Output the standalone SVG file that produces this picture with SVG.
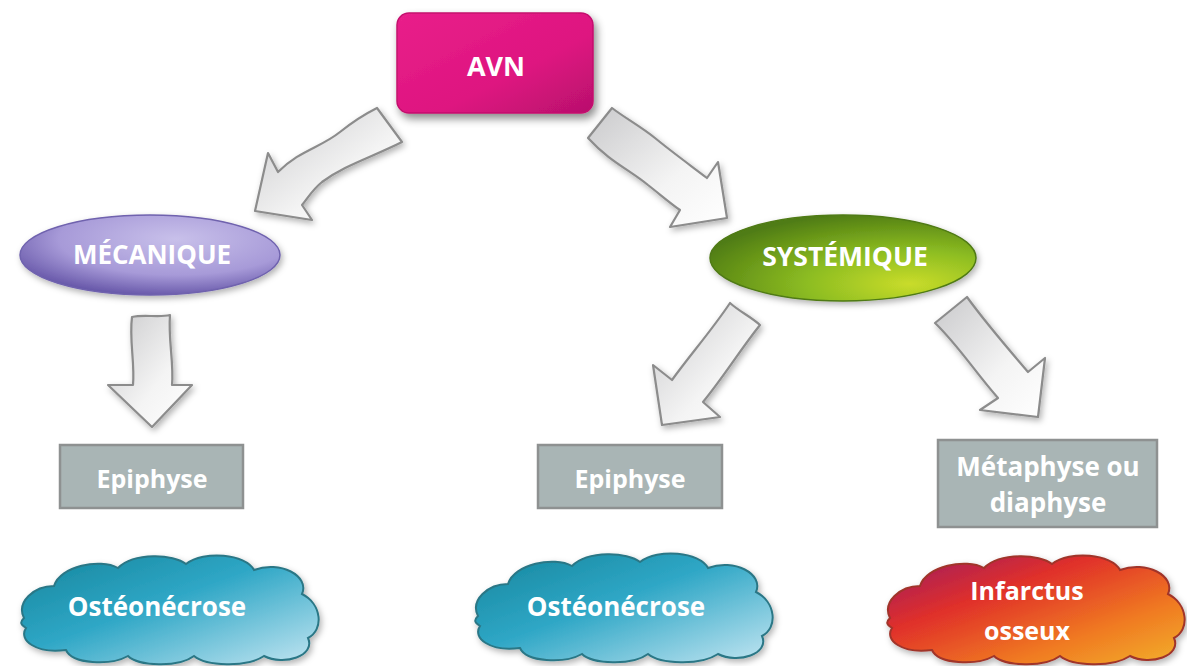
<svg xmlns="http://www.w3.org/2000/svg" width="1187" height="666" viewBox="0 0 1187 666">
  <defs>
    <style>
      .lbl { font-family: "Open Sans", "Liberation Sans", sans-serif; font-weight: 700; fill: #ffffff; text-anchor: middle; dominant-baseline: central; }
      .arrow { fill: url(#arrowFill); stroke: #8c8c8c; stroke-width: 2.2; stroke-linejoin: round; filter: url(#softShadow); }
      .box { fill: #a9b5b5; stroke: #8e9191; stroke-width: 2.5; }
    </style>
    <linearGradient id="arrowFill" x1="0" y1="0" x2="1" y2="1">
      <stop offset="0" stop-color="#c9c9cb"/>
      <stop offset="0.6" stop-color="#f4f4f4"/>
      <stop offset="1" stop-color="#ffffff"/>
    </linearGradient>
    <linearGradient id="avnFill" x1="0" y1="0" x2="1" y2="1">
      <stop offset="0" stop-color="#e9208a"/>
      <stop offset="0.6" stop-color="#de1580"/>
      <stop offset="1" stop-color="#b8106c"/>
    </linearGradient>
    <radialGradient id="mecaFill" cx="0.6" cy="0.3" r="0.75">
      <stop offset="0" stop-color="#c8c0ea"/>
      <stop offset="0.6" stop-color="#a79ad8"/>
      <stop offset="1" stop-color="#5f4fa3"/>
    </radialGradient>
    <radialGradient id="systFill" cx="0.75" cy="0.8" r="0.85">
      <stop offset="0" stop-color="#c9dc2a"/>
      <stop offset="0.45" stop-color="#8dbd22"/>
      <stop offset="1" stop-color="#4f7c12"/>
    </radialGradient>
    <linearGradient id="blueCloud" x1="0" y1="0" x2="1" y2="1">
      <stop offset="0" stop-color="#15859c"/>
      <stop offset="0.45" stop-color="#2fa7c6"/>
      <stop offset="1" stop-color="#c4e6f2"/>
    </linearGradient>
    <linearGradient id="fireCloud" x1="0" y1="0" x2="1" y2="1">
      <stop offset="0" stop-color="#9a1a64"/>
      <stop offset="0.35" stop-color="#e0302a"/>
      <stop offset="0.7" stop-color="#f07a22"/>
      <stop offset="1" stop-color="#f2b22c"/>
    </linearGradient>
    <filter id="softShadow" x="-20%" y="-20%" width="150%" height="150%">
      <feDropShadow dx="2" dy="3" stdDeviation="3" flood-color="#000" flood-opacity="0.3"/>
    </filter>
    <filter id="deepShadow" x="-20%" y="-30%" width="150%" height="170%">
      <feDropShadow dx="3" dy="5" stdDeviation="4" flood-color="#000" flood-opacity="0.45"/>
    </filter>
    <!-- puffy outline shared by the three result clouds -->
    <path id="cloud" d="M 6 70 C -2 54 16 38 36 38 C 42 18 82 10 100 20 C 116 4 156 6 168 16 C 186 2 228 6 236 22 C 262 12 292 28 284 46 C 304 56 306 82 290 90 C 298 108 266 118 246 108 C 228 120 188 118 176 108 C 160 120 120 118 110 108 C 92 118 54 116 48 102 C 18 106 0 92 8 80 C 2 76 2 74 6 70 Z"/>
  </defs>

  <rect width="1187" height="666" fill="#ffffff"/>

  <g id="connectors">
    <!-- AVN to MÉCANIQUE -->
    <path class="arrow" d="M 377 108 L 402 142 C 370 158 345 165 322 182 C 312 190 308 198 302 205 L 312 220 L 255 211 L 268 153 L 278 172 C 300 150 320 148 340 132 C 355 120 365 114 377 108 Z"/>
    <!-- AVN to SYSTÉMIQUE -->
    <path class="arrow" d="M 612 108 L 588 138 C 610 162 630 170 648 185 C 662 196 670 203 680 210 L 670 227 L 727 218 L 718 162 L 707 178 C 690 165 672 152 655 138 C 640 126 625 118 612 108 Z"/>
    <!-- MÉCANIQUE to Epiphyse -->
    <path class="arrow" d="M 132 317 C 145 314 158 318 170 315 C 168 340 174 362 172 385 L 192 385 L 152 427 L 108 385 L 133 385 C 135 362 129 340 132 317 Z"/>
    <!-- SYSTÉMIQUE to Epiphyse -->
    <path class="arrow" d="M 730 303 C 740 312 750 316 760 325 C 740 350 725 375 703 402 L 720 417 L 662 425 L 653 365 L 672 380 C 690 355 712 330 730 303 Z"/>
    <!-- SYSTÉMIQUE to Métaphyse ou diaphyse -->
    <path class="arrow" d="M 935 323 L 967 297 C 985 322 1005 345 1028 372 L 1045 358 L 1038 417 L 980 410 L 998 398 C 975 372 958 345 935 323 Z"/>
  </g>

  <g id="avn">
    <rect x="397" y="13" width="196" height="100" rx="12" fill="url(#avnFill)" stroke="#c4106e" stroke-width="1.5" filter="url(#deepShadow)"/>
    <text class="lbl" x="496" y="65" font-size="27">AVN</text>
  </g>

  <g id="mecanique">
    <ellipse cx="150" cy="255" rx="130" ry="40" fill="url(#mecaFill)" stroke="#6f62ae" stroke-width="1.5" filter="url(#softShadow)"/>
    <text class="lbl" x="152" y="254" font-size="26">MÉCANIQUE</text>
  </g>

  <g id="systemique">
    <ellipse cx="843" cy="258" rx="133" ry="43" fill="url(#systFill)" stroke="#4f7a14" stroke-width="1.5" filter="url(#softShadow)"/>
    <text class="lbl" x="845" y="256" font-size="26.5">SYSTÉMIQUE</text>
  </g>

  <g id="epiphyse-meca">
    <rect class="box" x="60" y="445" width="183" height="63"/>
    <text class="lbl" x="152" y="478" font-size="25">Epiphyse</text>
  </g>

  <g id="epiphyse-syst">
    <rect class="box" x="538" y="445" width="184" height="63"/>
    <text class="lbl" x="630" y="478" font-size="25">Epiphyse</text>
  </g>

  <g id="metaphyse">
    <rect class="box" x="938" y="440" width="219" height="87"/>
    <text class="lbl" x="1048" y="466" font-size="26">Métaphyse ou</text>
    <text class="lbl" x="1048" y="502" font-size="26">diaphyse</text>
  </g>

  <g id="osteonecrose-meca">
    <use href="#cloud" transform="translate(18 548)" fill="url(#blueCloud)" stroke="#2b7786" stroke-width="2" filter="url(#softShadow)"/>
    <text class="lbl" x="157" y="606" font-size="26">Ostéonécrose</text>
  </g>

  <g id="osteonecrose-syst">
    <use href="#cloud" transform="translate(472 546)" fill="url(#blueCloud)" stroke="#2b7786" stroke-width="2" filter="url(#softShadow)"/>
    <text class="lbl" x="616" y="606" font-size="26">Ostéonécrose</text>
  </g>

  <g id="infarctus">
    <use href="#cloud" transform="translate(884 548)" fill="url(#fireCloud)" stroke="#a0342a" stroke-width="2" filter="url(#softShadow)"/>
    <text class="lbl" x="1027" y="590" font-size="25">Infarctus</text>
    <text class="lbl" x="1027" y="630" font-size="25">osseux</text>
  </g>
</svg>
